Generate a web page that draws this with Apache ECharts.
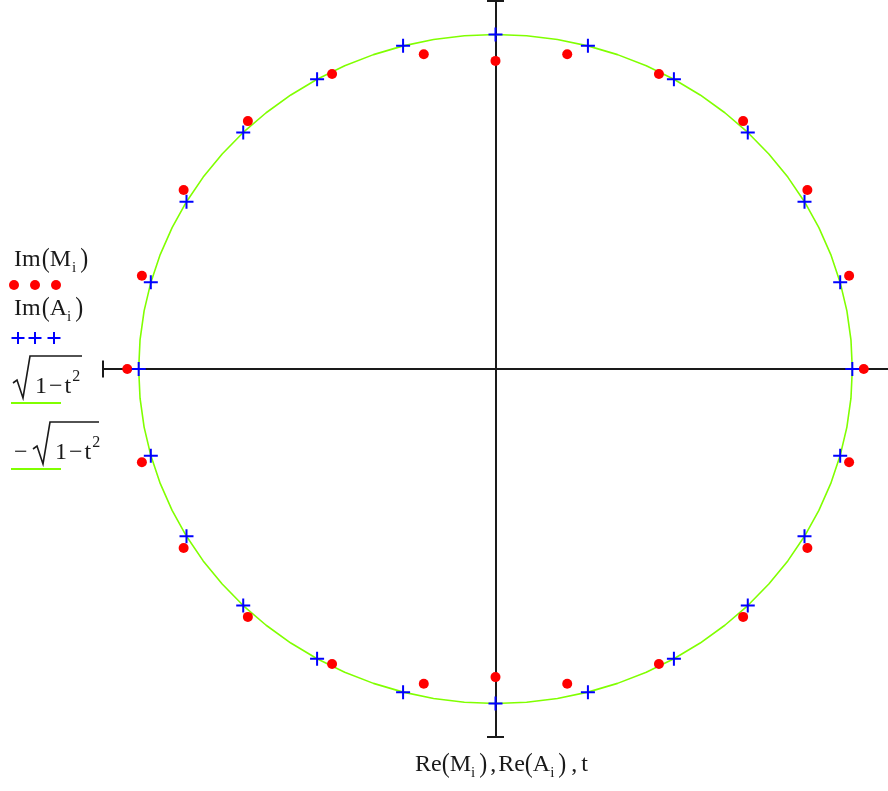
<!DOCTYPE html>
<html lang="en">
<head>
<meta charset="UTF-8">
<title>Im vs Re</title>
<script src="https://cdn.jsdelivr.net/npm/echarts@6/dist/echarts.min.js"></script>
<style>
    html, body { margin: 0; padding: 0; background: #fff; }
    #chart { width: 888px; height: 791px; }
</style>
</head>
<body>
<div id="chart"></div>
<script>
// M_i (red dots)
var mRe = [1.032, 0.991, 0.874, 0.694, 0.458, 0.201, 0, -0.201, -0.458, -0.694, -0.874, -0.991,
           -1.032, -0.991, -0.874, -0.694, -0.458, -0.201, 0, 0.201, 0.458, 0.694, 0.874, 0.991];
var mIm = [0, 0.279, 0.535, 0.741, 0.882, 0.941, 0.921, 0.941, 0.882, 0.741, 0.535, 0.279,
           0, -0.279, -0.535, -0.741, -0.882, -0.941, -0.921, -0.941, -0.882, -0.741, -0.535, -0.279];

// A_i (blue crosses), on the unit circle
var aRe = [1, 0.966, 0.866, 0.707, 0.5, 0.259, 0, -0.259, -0.5, -0.707, -0.866, -0.966,
           -1, -0.966, -0.866, -0.707, -0.5, -0.259, 0, 0.259, 0.5, 0.707, 0.866, 0.966];
var aIm = [0, 0.259, 0.5, 0.707, 0.866, 0.966, 1, 0.966, 0.866, 0.707, 0.5, 0.259,
           0, -0.259, -0.5, -0.707, -0.866, -0.966, -1, -0.966, -0.866, -0.707, -0.5, -0.259];

// t samples and the two root curves
var tVals = [-1, -0.9962, -0.9848, -0.9659, -0.9397, -0.9063, -0.866, -0.8192, -0.766, -0.7071,
             -0.6428, -0.5736, -0.5, -0.4226, -0.342, -0.2588, -0.1736, -0.0872, 0,
             0.0872, 0.1736, 0.2588, 0.342, 0.4226, 0.5, 0.5736, 0.6428, 0.7071, 0.766,
             0.8192, 0.866, 0.9063, 0.9397, 0.9659, 0.9848, 0.9962, 1];
var rootPos = [0, 0.0872, 0.1736, 0.2588, 0.342, 0.4226, 0.5, 0.5736, 0.6428, 0.7071,
               0.766, 0.8192, 0.866, 0.9063, 0.9397, 0.9659, 0.9848, 0.9962, 1,
               0.9962, 0.9848, 0.9659, 0.9397, 0.9063, 0.866, 0.8192, 0.766, 0.7071, 0.6428,
               0.5736, 0.5, 0.4226, 0.342, 0.2588, 0.1736, 0.0872, 0];
var rootNeg = [0, -0.0872, -0.1736, -0.2588, -0.342, -0.4226, -0.5, -0.5736, -0.6428, -0.7071,
               -0.766, -0.8192, -0.866, -0.9063, -0.9397, -0.9659, -0.9848, -0.9962, -1,
               -0.9962, -0.9848, -0.9659, -0.9397, -0.9063, -0.866, -0.8192, -0.766, -0.7071, -0.6428,
               -0.5736, -0.5, -0.4226, -0.342, -0.2588, -0.1736, -0.0872, 0];

var axisMin = -1.1, axisMax = 1.1;

var RED = '#ff0000', BLUE = '#0000ff', GREEN = '#80ff00', INK = '#1a1a1a';
var FONT = '"Liberation Serif", "Times New Roman", serif';

function zip(a, b) { return a.map(function (v, i) { return [v, b[i]]; }); }

var measureCtx = document.createElement('canvas').getContext('2d');
function textWidth(t, size) {
    measureCtx.font = size + 'px ' + FONT;
    return measureCtx.measureText(t).width;
}
// parts: [text, size, dy, scaleY, gapAfter]
function formulaWidth(parts) {
    var w = 0;
    parts.forEach(function (p) { w += textWidth(p[0], p[1]) + (p[4] || 0); });
    return w;
}
function formula(x, base, parts) {
    var out = [];
    parts.forEach(function (p) {
        var size = p[1];
        out.push({
            type: 'text', x: x, y: base + (p[2] || 0) - size * 0.34,
            scaleY: p[3] || 1, silent: true,
            style: {
                text: p[0], font: size + 'px ' + FONT, fill: INK,
                align: 'left', textAlign: 'left', verticalAlign: 'middle', textVerticalAlign: 'middle'
            }
        });
        x += textWidth(p[0], size) + (p[4] || 0);
    });
    return out;
}
function seg(x1, y1, x2, y2, color, w) {
    return { type: 'line', silent: true, shape: { x1: x1, y1: y1, x2: x2, y2: y2 },
             style: { stroke: color, lineWidth: w } };
}
function radical(pts) {
    return { type: 'polyline', silent: true, shape: { points: pts },
             style: { stroke: INK, lineWidth: 1.6, fill: null } };
}

var P = 24, S = 15;
var rootParts = [['1', P, 0, 1, 2], ['\u2212', P, 0, 1, 2], ['t', P, 0, 1, 1], ['2', 16, -13, 1, 0]];
var xLabelParts = [['Re', P, 0, 1, 0], ['(', P, 0, 1.15, 0], ['M', P, 0, 1, 0], ['i', S, 5, 1, 4],
                   [')', P, 0, 1.15, 3], [',', P, 0, 1, 2],
                   ['Re', P, 0, 1, 0], ['(', P, 0, 1.15, 0], ['A', P, 0, 1, 0], ['i', S, 5, 1, 4],
                   [')', P, 0, 1.15, 5], [',', P, 0, 1, 4], ['t', P, 0, 1, 0]];

var graphics = [];
// legend: Im(M_i) with red dots
graphics = graphics.concat(formula(14, 268, [['Im', P, 0, 1, 1], ['(', P, 0, 1.15, 0], ['M', P, 0, 1, 1],
                                              ['i', S, 5, 1, 4], [')', P, 0, 1.15, 0]]));
[14, 35, 56].forEach(function (cx) {
    graphics.push({ type: 'circle', silent: true, shape: { cx: cx, cy: 285, r: 5 }, style: { fill: RED } });
});
// legend: Im(A_i) with blue crosses
graphics = graphics.concat(formula(14, 317, [['Im', P, 0, 1, 1], ['(', P, 0, 1.15, 0], ['A', P, 0, 1, 0],
                                              ['i', S, 5, 1, 4], [')', P, 0, 1.15, 0]]));
[18, 35, 54].forEach(function (cx) {
    graphics.push(seg(cx - 6.5, 338, cx + 6.5, 338, BLUE, 2));
    graphics.push(seg(cx, 332, cx, 344, BLUE, 2));
});
// legend: sqrt(1-t^2)
graphics.push(radical([[13, 383], [17, 380], [23, 398], [30, 356], [82, 356]]));
graphics = graphics.concat(formula(35, 395, rootParts));
graphics.push(seg(11, 403, 61, 403, GREEN, 2));
// legend: -sqrt(1-t^2)
graphics = graphics.concat(formula(14, 461, [['\u2212', P, 0, 1, 0]]));
graphics.push(radical([[33, 449], [37, 446], [43, 464], [50, 422], [99, 422]]));
graphics = graphics.concat(formula(55, 461, rootParts));
graphics.push(seg(11, 469, 61, 469, GREEN, 2));
// x axis label
graphics = graphics.concat(formula(501.5 - formulaWidth(xLabelParts) / 2, 773, xLabelParts));

function axisOpts(endSymbols) {
    return {
        type: 'value', min: axisMin, max: axisMax,
        axisLine: { onZero: true, symbol: endSymbols, symbolSize: [17, 2],
                    lineStyle: { color: '#1a1a1a', width: 2 } },
        axisTick: { show: false }, axisLabel: { show: false }, splitLine: { show: false }
    };
}

var myChart = echarts.init(document.getElementById('chart'));
myChart.setOption({
    animation: false,
    backgroundColor: '#fff',
    grid: { left: 103, top: 1, width: 787, height: 736 },
    xAxis: axisOpts(['rect', 'none']),
    yAxis: axisOpts(['rect', 'rect']),
    graphic: { elements: graphics },
    series: [
        {
            name: 'sqrt(1-t^2)', type: 'line', data: zip(tVals, rootPos), showSymbol: false,
            lineStyle: { color: GREEN, width: 1.6 }, z: 2
        },
        {
            name: '-sqrt(1-t^2)', type: 'line', data: zip(tVals, rootNeg), showSymbol: false,
            lineStyle: { color: GREEN, width: 1.6 }, z: 2
        },
        {
            name: 'Im(M)', type: 'scatter', data: zip(mRe, mIm), symbol: 'circle', symbolSize: 10,
            itemStyle: { color: RED, opacity: 1 }, z: 3
        },
        {
            name: 'Im(A)', type: 'scatter', data: zip(aRe, aIm),
            symbol: 'path://M0,6H14V8H0Z M6,0H8V14H6Z', symbolSize: 14,
            itemStyle: { color: BLUE, opacity: 1 }, z: 4
        }
    ]
});
</script>
</body>
</html>
